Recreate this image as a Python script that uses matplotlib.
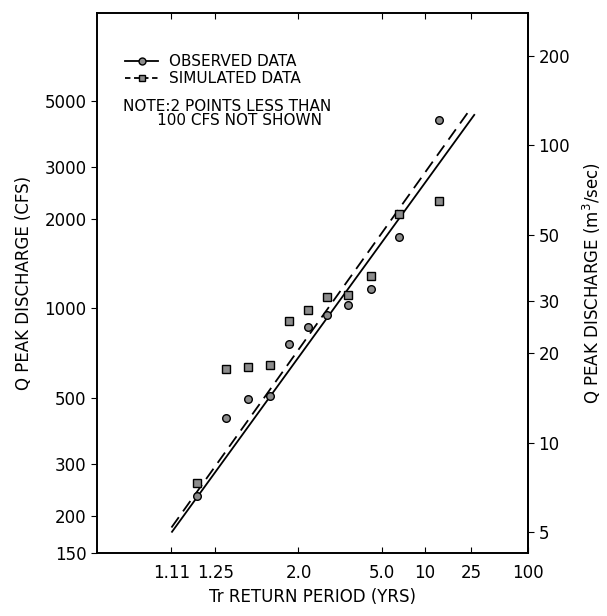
from statistics import NormalDist

import numpy as np
import matplotlib
matplotlib.use("Agg")
import matplotlib.pyplot as plt
from matplotlib.ticker import FixedLocator, NullLocator, FuncFormatter

# return periods (yrs) of the plotted events
tr_points = [1.18, 1.30, 1.44, 1.63, 1.86, 2.17, 2.60, 3.25, 4.33, 6.50, 13.0]
# peak discharge (cfs)
q_observed = [233, 427, 496, 508, 760, 866, 948, 1024, 1163, 1733, 4318]
q_simulated = [259, 624, 633, 643, 905, 985, 1092, 1109, 1280, 2082, 2296]

# fitted lines (end points)
tr_fit_obs = [1.11, 27.0]
q_fit_obs = [176, 4500]
tr_fit_sim = [1.11, 25.0]
q_fit_sim = [183, 4730]

tr_ticks = [1.11, 1.25, 2.0, 5.0, 10, 25, 100]
tr_tick_labels = ["1.11", "1.25", "2.0", "5.0", "10", "25", "100"]
q_ticks = [150, 200, 300, 500, 1000, 2000, 3000, 5000]
m3_ticks = [5, 10, 20, 30, 50, 100, 200]

CFS_TO_M3 = 0.0283168
nd = NormalDist()


def tr_to_z(tr):
    # normal probability paper: standard normal quantile of non-exceedance
    return np.array([nd.inv_cdf(1 - 1 / t) for t in np.atleast_1d(tr)])


plt.rcParams["font.family"] = "DejaVu Sans"

fig = plt.figure(figsize=(6.07, 6.16), dpi=100)
ax = fig.add_axes([0.160, 0.102, 0.710, 0.877])

ax.plot(tr_to_z(tr_fit_obs), q_fit_obs, color="k", lw=1.3, solid_capstyle="butt")
ax.plot(tr_to_z(tr_fit_sim), q_fit_sim, color="k", lw=1.3, ls=(0, (7, 4)))

ax.plot(tr_to_z(tr_points), q_observed, ls="none", marker="o", ms=5.5,
        mfc="0.55", mec="k", mew=1.0)
ax.plot(tr_to_z(tr_points), q_simulated, ls="none", marker="s", ms=5.5,
        mfc="0.55", mec="k", mew=1.0)

# legend entries drawn as line + marker
ax.plot([], [], color="k", lw=1.3, marker="o", ms=5, mfc="0.55", mec="k",
        label="OBSERVED DATA")
ax.plot([], [], color="k", lw=1.3, ls=(0, (3, 2)), marker="s", ms=5,
        mfc="0.55", mec="k", label="SIMULATED DATA")
leg = ax.legend(loc="upper left", bbox_to_anchor=(0.05, 0.935), frameon=False,
                fontsize=11, handlelength=2.2, handletextpad=0.7,
                labelspacing=0.15, borderaxespad=0)

ax.text(0.06, 0.84, "NOTE:2 POINTS LESS THAN\n       100 CFS NOT SHOWN",
        transform=ax.transAxes, fontsize=11, va="top", ha="left",
        linespacing=0.9)

ax.set_yscale("log")
ax.set_ylim(150, 9860)
ax.set_xlim(-2.04, tr_to_z(100)[0])

ax.xaxis.set_major_locator(FixedLocator(tr_to_z(tr_ticks)))
ax.set_xticklabels(tr_tick_labels)
ax.xaxis.set_minor_locator(NullLocator())
ax.yaxis.set_major_locator(FixedLocator(q_ticks))
ax.yaxis.set_major_formatter(FuncFormatter(lambda v, p: f"{v:.0f}"))
ax.yaxis.set_minor_locator(NullLocator())

ax.tick_params(axis="x", direction="in", top=True, length=4, labelsize=12, pad=8)
ax.tick_params(axis="y", direction="out", length=4, labelsize=12)

sec = ax.secondary_yaxis("right", functions=(lambda q: q * CFS_TO_M3,
                                             lambda m: m / CFS_TO_M3))
sec.yaxis.set_major_locator(FixedLocator(m3_ticks))
sec.yaxis.set_major_formatter(FuncFormatter(lambda v, p: f"{v:.0f}"))
sec.yaxis.set_minor_locator(NullLocator())
sec.tick_params(direction="out", length=4, labelsize=12)
sec.set_ylabel("Q PEAK DISCHARGE (m$^3$/sec)", fontsize=12, labelpad=8)

for sp in list(ax.spines.values()) + list(sec.spines.values()):
    sp.set_linewidth(1.4)

ax.set_xlabel("Tr RETURN PERIOD (YRS)", fontsize=12, labelpad=4)
ax.set_ylabel("Q PEAK DISCHARGE (CFS)", fontsize=12, labelpad=8)

fig.savefig("out.png", dpi=100)
